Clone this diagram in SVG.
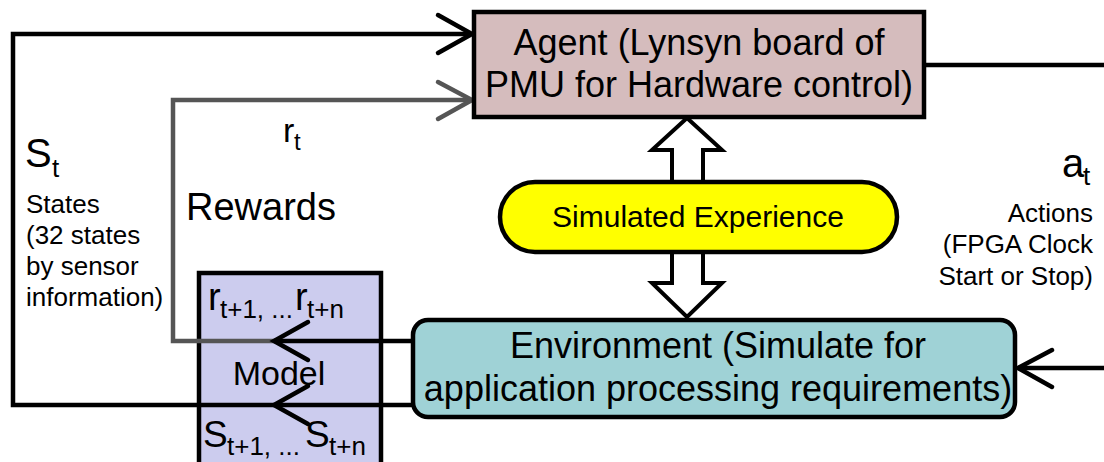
<svg xmlns="http://www.w3.org/2000/svg" width="1104" height="462" viewBox="0 0 1104 462">
  <style>
    text { font-family: "Liberation Sans", Arial, sans-serif; fill: #000; }
    .box { stroke: #000; stroke-width: 4.5; }
    .conn { fill: none; stroke-width: 4.5; stroke-linejoin: miter; }
    .blk { stroke: #000; }
    .gry { stroke: #555; }
    .head { fill: none; stroke-width: 4.5; stroke-linecap: round; stroke-linejoin: miter; }
    .block { fill: #fff; stroke: #000; stroke-width: 4; stroke-linejoin: miter; }
    .big { font-size: 36px; }
    .small { font-size: 26px; }
  </style>
  <rect width="1104" height="462" fill="#fff"/>

  <g id="model">
    <rect class="box" x="199" y="273" width="182" height="200" fill="#ccccee"/>
    <text y="310"><tspan x="208" font-size="38">r</tspan><tspan x="220" y="318" font-size="26">t+1, ...</tspan><tspan x="295" y="310" font-size="38">r</tspan><tspan x="307" y="318" font-size="26">t+n</tspan></text>
    <text x="279" y="385" font-size="34" text-anchor="middle">Model</text>
    <text y="447"><tspan x="203" font-size="37">S</tspan><tspan x="227" y="455" font-size="26">t+1, ...</tspan><tspan x="305" y="447" font-size="37">S</tspan><tspan x="329" y="455" font-size="26">t+n</tspan></text>
  </g>

  <g id="connectors">
    <path class="conn blk" d="M413,405 H13 V34 H470"/>
    <path class="conn gry" d="M275,341 H173 V100 H470"/>
    <path class="conn blk" d="M413,341 H274"/>
    <polyline class="head blk" points="438,15 472,34 438,53"/>
    <polyline class="head gry" points="438,82 472,100 438,119"/>
    <polyline class="head blk" points="308,322 274,341 308,360"/>
    <polyline class="head blk" points="308,386 274,405 308,424"/>
    <path class="conn blk" d="M924,65 H1104" stroke-width="3.5"/>
    <path class="conn blk" d="M1104,368 H1018" stroke-width="4"/>
    <polyline class="head blk" points="1052,350 1018,368 1052,387" stroke-width="4"/>
    <path class="block" d="M672,182 V150 H652 L687,118 L722,150 H703 V182"/>
    <path class="block" d="M672,252 V283 H652 L687,317 L722,283 H703 V252"/>
  </g>

  <g id="agent">
    <rect class="box" x="474" y="12" width="450" height="105" fill="#d5bcbd" stroke-width="5"/>
    <text class="big" x="699" y="55" text-anchor="middle">Agent (Lynsyn board of</text>
    <text class="big" x="699" y="97" text-anchor="middle">PMU for Hardware control)</text>
  </g>

  <g id="simulated">
    <rect class="box" x="500" y="182" width="397" height="70" rx="35" fill="#ffff00"/>
    <text x="698" y="227" font-size="30" text-anchor="middle">Simulated Experience</text>
  </g>

  <g id="environment">
    <rect class="box" x="413" y="320" width="602" height="97" rx="15" fill="#9fd2d6"/>
    <text class="big" x="718" y="358" text-anchor="middle">Environment (Simulate for</text>
    <text class="big" x="718" y="401" text-anchor="middle">application processing requirements)</text>
  </g>

  <g id="states-label">
    <text y="167"><tspan x="25" font-size="40">S</tspan><tspan x="52" y="177" font-size="26">t</tspan></text>
    <text class="small" x="26" y="213">States</text>
    <text class="small" x="26" y="244">(32 states</text>
    <text class="small" x="26" y="275">by sensor</text>
    <text class="small" x="26" y="306">information)</text>
  </g>

  <g id="rewards-label">
    <text y="142"><tspan x="283" font-size="34">r</tspan><tspan x="294" y="150" font-size="24">t</tspan></text>
    <text x="186" y="220" font-size="38">Rewards</text>
  </g>

  <g id="actions-label">
    <text y="177"><tspan x="1062" font-size="40">a</tspan><tspan x="1083" y="185" font-size="26">t</tspan></text>
    <text class="small" x="1093" y="222" text-anchor="end">Actions</text>
    <text class="small" x="1093" y="253" text-anchor="end">(FPGA Clock</text>
    <text class="small" x="1093" y="285" text-anchor="end">Start or Stop)</text>
  </g>
</svg>
